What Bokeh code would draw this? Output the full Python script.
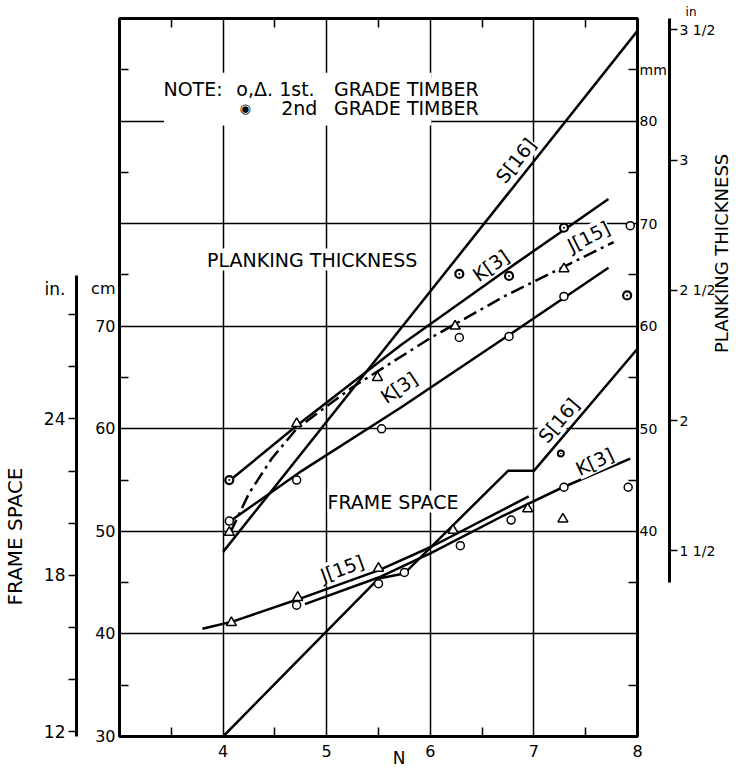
import math
from bokeh.plotting import figure
from bokeh.models import Range1d, LinearAxis, FixedTicker, Label, BoxAnnotation, Title
from bokeh.embed import file_html
from bokeh.resources import INLINE

FONT = "DejaVu Sans"

# ---------------- data ----------------
n_ticks = [4, 5, 6, 7, 8]
n_minor = [3.5, 4.5, 5.5, 6.5, 7.5]
cm_ticks = [30, 40, 50, 60, 70]
cm_minor = [35, 45, 55, 65, 75, 85, 95]
grid_n = [4, 5, 6, 7]
grid_cm = [40, 50, 60, 70, 80, 90]
mm_ticks = [40, 50, 60, 70, 80]
mm_minor = [25, 35, 45, 55, 65, 75, 85]
fs_in_ticks = [12, 18, 24]
fs_in_minor = [12, 14, 16, 18, 20, 22, 24, 26, 28]
pt_in_ticks = [1.5, 2.0, 2.5, 3.0, 3.5]
pt_in_labels = ["1 1/2", "2", "2 1/2", "3", "3 1/2"]

# Planking thickness (mm) curves
pt_s16_n = [4.0, 8.0]
pt_s16_mm = [38.0, 88.8]
pt_k3_upper_n = [4.07, 4.71, 5.72, 6.68, 7.72]
pt_k3_upper_mm = [45.0, 50.3, 58.2, 65.1, 72.4]
pt_k3_lower_n = [4.07, 4.76, 5.72, 6.68, 7.72]
pt_k3_lower_mm = [41.0, 45.9, 52.1, 58.6, 65.7]
pt_j15_n = [4.07, 4.25, 4.47, 4.71, 5.24, 6.01, 6.73, 7.77]
pt_j15_mm = [39.9, 43.7, 47.1, 50.0, 54.0, 58.9, 63.0, 68.2]

# Planking thickness (mm) points
pt_circ_n = [4.06, 4.71, 5.53, 6.28, 6.76, 7.29, 7.93]
pt_circ_mm = [41.0, 45.0, 50.0, 58.9, 59.0, 62.9, 69.8]
pt_tri_n = [4.06, 4.71, 5.49, 6.24, 7.29]
pt_tri_mm = [39.9, 50.5, 55.0, 60.0, 65.6]
pt_dot_n = [4.06, 6.28, 6.76, 7.29, 7.90]
pt_dot_mm = [45.0, 65.1, 64.9, 69.6, 63.0]

# Frame space (cm) curves
fs_s16_n = [4.0, 5.5, 5.75, 6.75, 7.0, 8.0]
fs_s16_cm = [30.0, 45.4, 45.9, 55.9, 55.9, 67.8]
fs_k3_n = [4.79, 5.50, 6.01, 6.68, 7.28, 7.93]
fs_k3_cm = [42.9, 45.5, 47.9, 51.4, 54.3, 57.1]
fs_j15_n = [3.80, 4.09, 4.73, 5.50, 6.01, 6.95]
fs_j15_cm = [40.5, 41.2, 43.4, 46.2, 48.5, 53.4]

# Frame space (cm) points
fs_tri_n = [4.08, 4.72, 5.50, 6.22, 6.94, 7.28]
fs_tri_cm = [41.1, 43.55, 46.4, 50.1, 52.2, 51.2]
fs_circ_n = [4.71, 5.50, 5.75, 6.29, 6.78, 7.29, 7.91]
fs_circ_cm = [42.8, 44.9, 46.0, 48.6, 51.1, 54.3, 54.3]
fs_dot_n = [7.26]
fs_dot_cm = [57.6]

# positions (along the axes) of the side texts
CM_UNIT_POS = 73.66        # "cm" beside the left scale
IN_UNIT_POS = 29.0         # "in." on the left inch scale
FS_TITLE_POS = 49.5        # centre of "FRAME SPACE"
PT_TITLE_START = 67.39     # bottom end of "PLANKING THICKNESS"
N_TITLE_POS = 5.7          # "N"

# ---------------- figure ----------------
p = figure(width=746, height=774, x_range=Range1d(3, 8), y_range=Range1d(30, 100),
           output_backend="svg", toolbar_location=None,
           min_border_left=118, min_border_right=109, min_border_top=18, min_border_bottom=38)
p.background_fill_color = "white"
p.border_fill_color = "white"
p.outline_line_color = "black"
p.outline_line_width = 3

p.extra_y_ranges = {
    "mm": Range1d(20, 90),
    "in_fs": Range1d(30 / 2.54, 100 / 2.54),
    "in_pt": Range1d(20 / 25.4, 90 / 25.4),
}

xg = p.xgrid[0]
yg = p.ygrid[0]
xg.ticker = FixedTicker(ticks=grid_n)
yg.ticker = FixedTicker(ticks=grid_cm)
for g in (xg, yg):
    g.grid_line_color = "black"
    g.grid_line_width = 1.5
    g.grid_line_alpha = 1.0


def style_axis(ax, size="16px"):
    ax.major_label_text_font = FONT
    ax.major_label_text_font_size = size
    ax.major_label_text_color = "black"
    ax.axis_label_text_font = FONT
    ax.axis_label_text_font_style = "normal"
    ax.axis_label_text_color = "black"
    ax.major_tick_line_color = "black"
    ax.minor_tick_line_color = "black"
    ax.major_tick_line_width = 1.5
    ax.minor_tick_line_width = 1.5
    ax.axis_line_color = "black"
    ax.axis_line_width = 3


def carrier_axis(ticks, labels, size, orientation, standoff, **kw):
    ax = LinearAxis(ticker=FixedTicker(ticks=ticks),
                    major_label_overrides=dict(zip(ticks, labels)), **kw)
    style_axis(ax, size)
    ax.axis_line_color = None
    ax.major_tick_line_color = None
    ax.major_tick_in = 0
    ax.major_tick_out = 0
    ax.major_label_orientation = orientation
    ax.major_label_standoff = standoff
    return ax


# bottom N axis
xa = p.xaxis[0]
style_axis(xa)
xa.ticker = FixedTicker(ticks=n_ticks, minor_ticks=n_minor)
xa.major_label_overrides = {t: str(t) for t in n_ticks}
xa.major_tick_in = 0
xa.major_tick_out = 0
xa.minor_tick_in = 9
xa.minor_tick_out = 0
xa.axis_line_color = None
xa.major_label_standoff = 8

p.add_layout(carrier_axis([N_TITLE_POS], ["N"], "17px", "horizontal", -12), "below")

# top axis (ticks only) and the "in" caption of the right scale
ta = LinearAxis(ticker=FixedTicker(ticks=[], minor_ticks=n_minor))
style_axis(ta)
ta.major_tick_in = 0
ta.major_tick_out = 0
ta.minor_tick_in = 9
ta.minor_tick_out = 0
ta.axis_line_color = None
ta.major_label_text_font_size = "0px"
ta.major_label_standoff = 0
p.add_layout(ta, "above")
p.add_layout(Title(text="in", align="right", offset=-59, standoff=0,
                   text_font=FONT, text_font_size="12px", text_font_style="normal",
                   text_color="black"), "above")

# left cm axis
ya = p.yaxis[0]
style_axis(ya)
ya.ticker = FixedTicker(ticks=cm_ticks + [CM_UNIT_POS], minor_ticks=cm_minor)
ya.major_label_overrides = dict(zip(cm_ticks + [CM_UNIT_POS], [str(t) for t in cm_ticks] + ["cm"]))
ya.major_tick_in = 0
ya.major_tick_out = 0
ya.minor_tick_in = 9
ya.minor_tick_out = 0
ya.axis_line_color = None
ya.major_label_standoff = 4
ya.axis_label = " "
ya.axis_label_text_font_size = "8px"
ya.axis_label_standoff = 0

# left inch axis (frame space)
ax_fs_in = LinearAxis(y_range_name="in_fs",
                      ticker=FixedTicker(ticks=fs_in_ticks + [IN_UNIT_POS], minor_ticks=fs_in_minor),
                      major_label_overrides=dict(zip(fs_in_ticks + [IN_UNIT_POS],
                                                     [str(t) for t in fs_in_ticks] + ["in."])),
                      bounds=(30 / 2.54, 29.5))
style_axis(ax_fs_in, "17px")
ax_fs_in.major_tick_in = 0
ax_fs_in.major_tick_out = 0
ax_fs_in.minor_tick_in = 0
ax_fs_in.minor_tick_out = 8
ax_fs_in.major_label_standoff = 3
p.add_layout(ax_fs_in, "left")

p.add_layout(carrier_axis([FS_TITLE_POS], ["FRAME SPACE"], "20px", "vertical", 13), "left")

# right mm axis
ax_mm = LinearAxis(y_range_name="mm",
                   ticker=FixedTicker(ticks=mm_ticks + [85], minor_ticks=mm_minor),
                   major_label_overrides=dict(zip(mm_ticks + [85], [str(t) for t in mm_ticks] + ["mm"])))
style_axis(ax_mm, "14px")
ax_mm.major_tick_in = 0
ax_mm.major_tick_out = 0
ax_mm.minor_tick_in = 9
ax_mm.minor_tick_out = 0
ax_mm.axis_line_color = None
ax_mm.major_label_standoff = 2
p.add_layout(ax_mm, "right")

# right inch axis (planking thickness)
ax_pt_in = LinearAxis(y_range_name="in_pt",
                      ticker=FixedTicker(ticks=pt_in_ticks),
                      major_label_overrides=dict(zip(pt_in_ticks, pt_in_labels)),
                      bounds=(1.38, 90 / 25.4))
style_axis(ax_pt_in, "14px")
ax_pt_in.major_tick_in = 0
ax_pt_in.major_tick_out = 8
ax_pt_in.major_label_standoff = 2
p.add_layout(ax_pt_in, "right")

p.add_layout(carrier_axis([PT_TITLE_START], ["PLANKING THICKNESS"], "18px", math.pi / 2, 3), "right")

# note box mask
p.add_layout(BoxAnnotation(left=3.43, right=6.01, bottom=89.57, top=94.7,
                           fill_color="white", fill_alpha=1.0, line_color=None))

# ---------------- curves ----------------
LW = 2.5
p.line(pt_s16_n, pt_s16_mm, y_range_name="mm", line_color="black", line_width=LW)
p.line(pt_k3_upper_n, pt_k3_upper_mm, y_range_name="mm", line_color="black", line_width=LW)
p.line(pt_k3_lower_n, pt_k3_lower_mm, y_range_name="mm", line_color="black", line_width=LW)
p.line(pt_j15_n, pt_j15_mm, y_range_name="mm", line_color="black", line_width=LW,
       line_dash="14 5 3 5")

p.line(fs_s16_n, fs_s16_cm, line_color="black", line_width=LW)
p.line(fs_k3_n, fs_k3_cm, line_color="black", line_width=LW)
p.line(fs_j15_n, fs_j15_cm, line_color="black", line_width=LW)

# ---------------- points ----------------
p.scatter(pt_circ_n, pt_circ_mm, y_range_name="mm", marker="circle", size=8,
          fill_color="white", line_color="black", line_width=1.5)
p.scatter(pt_tri_n, pt_tri_mm, y_range_name="mm", marker="triangle", size=10,
          fill_color="white", line_color="black", line_width=1.5)
p.scatter(pt_dot_n, pt_dot_mm, y_range_name="mm", marker="circle_dot", size=8,
          fill_color="white", line_color="black", line_width=2.2)

p.scatter(fs_circ_n, fs_circ_cm, marker="circle", size=8,
          fill_color="white", line_color="black", line_width=1.5)
p.scatter(fs_tri_n, fs_tri_cm, marker="triangle", size=10,
          fill_color="white", line_color="black", line_width=1.5)
p.scatter(fs_dot_n, fs_dot_cm, marker="circle_dot", size=6,
          fill_color="white", line_color="black", line_width=2)


# ---------------- texts inside the frame ----------------
def add_label(x, y, text, size="19px", angle_deg=0.0, bg=None, align="center", style="normal"):
    lab = Label(x=x, y=y, text=text, text_font=FONT, text_font_size=size,
                text_align=align, text_baseline="middle", angle=math.radians(angle_deg),
                text_color="black", text_font_style=style)
    if bg is not None:
        lab.background_fill_color = bg
    p.add_layout(lab)


add_label(4.86, 76.5, "PLANKING THICKNESS", bg="white")
add_label(5.64, 52.9, "FRAME SPACE", bg="white")

add_label(3.424, 93.13, "NOTE:", align="left", bg="white")
add_label(4.127, 93.13, "o,Δ.", align="left", bg="white")
add_label(4.541, 93.13, "1st.", align="left", bg="white")
add_label(5.071, 93.13, "GRADE TIMBER", align="left", bg="white")
add_label(4.214, 91.27, "◉", size="13px", bg="white")
add_label(4.561, 91.27, "2nd", align="left", bg="white")
add_label(5.071, 91.27, "GRADE TIMBER", align="left", bg="white")

add_label(6.825, 86.16, "S[16]", angle_deg=51.5, bg="white")
add_label(6.584, 75.92, "K[3]", angle_deg=35, bg="white")
add_label(7.528, 78.75, "J[15]", angle_deg=26.5, bg="white")
add_label(5.697, 64.03, "K[3]", angle_deg=34, bg="white")
add_label(7.239, 60.81, "S[16]", angle_deg=50, bg="white")
add_label(7.586, 56.81, "K[3]", angle_deg=25, bg="white")
add_label(5.148, 46.38, "J[15]", angle_deg=20, bg="white")

open("out.html", "w").write(file_html(p, INLINE))
